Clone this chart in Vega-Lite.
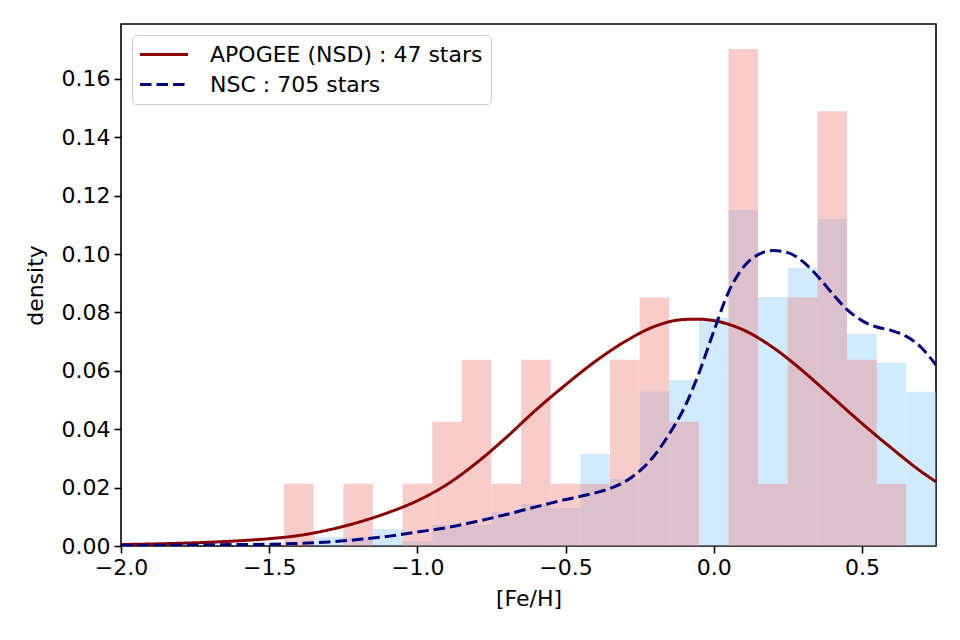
{
  "$schema": "https://vega.github.io/schema/vega-lite/v6.json",
  "width": 815,
  "height": 522,
  "autosize": {"type": "none"},
  "padding": {"left": 121, "top": 24, "right": 24, "bottom": 94},
  "background": "white",
  "config": {
    "font": "DejaVu Sans",
    "view": {"stroke": "black", "strokeWidth": 1.6},
    "axis": {
      "domain": false,
      "grid": false,
      "labelFlush": false,
      "labelFont": "DejaVu Sans",
      "labelFontSize": 22,
      "labelColor": "black",
      "titleFont": "DejaVu Sans",
      "titleFontSize": 22,
      "titleFontWeight": "normal",
      "titleColor": "black",
      "tickColor": "black",
      "tickWidth": 1.6,
      "tickSize": 7,
      "labelPadding": 4
    },
    "legend": {
      "orient": "none",
      "legendX": 11,
      "legendY": 11,
      "fillColor": "white",
      "strokeColor": "#cccccc",
      "cornerRadius": 4,
      "padding": 8,
      "labelFont": "DejaVu Sans",
      "labelFontSize": 22,
      "labelColor": "black",
      "labelLimit": 500,
      "labelOffset": 47,
      "symbolType": "M-1.15,0H3.65",
      "symbolSize": 400,
      "symbolStrokeWidth": 3,
      "rowPadding": 7
    }
  },
  "datasets": {
    "hist": [
      {"series": "NSC", "lo": -1.35, "hi": -1.25, "density": 0.0031},
      {"series": "NSC", "lo": -1.25, "hi": -1.15, "density": 0.0030},
      {"series": "NSC", "lo": -1.15, "hi": -1.05, "density": 0.0058},
      {"series": "NSC", "lo": -1.05, "hi": -0.95, "density": 0.0017},
      {"series": "NSC", "lo": -0.95, "hi": -0.85, "density": 0.0072},
      {"series": "NSC", "lo": -0.85, "hi": -0.75, "density": 0.0072},
      {"series": "NSC", "lo": -0.75, "hi": -0.65, "density": 0.0116},
      {"series": "NSC", "lo": -0.65, "hi": -0.55, "density": 0.0144},
      {"series": "NSC", "lo": -0.55, "hi": -0.45, "density": 0.0130},
      {"series": "NSC", "lo": -0.45, "hi": -0.35, "density": 0.0315},
      {"series": "NSC", "lo": -0.35, "hi": -0.25, "density": 0.0230},
      {"series": "NSC", "lo": -0.25, "hi": -0.15, "density": 0.0529},
      {"series": "NSC", "lo": -0.15, "hi": -0.05, "density": 0.0569},
      {"series": "NSC", "lo": -0.05, "hi": 0.05, "density": 0.0782},
      {"series": "NSC", "lo": 0.05, "hi": 0.15, "density": 0.1151},
      {"series": "NSC", "lo": 0.15, "hi": 0.25, "density": 0.0853},
      {"series": "NSC", "lo": 0.25, "hi": 0.35, "density": 0.0952},
      {"series": "NSC", "lo": 0.35, "hi": 0.45, "density": 0.1120},
      {"series": "NSC", "lo": 0.45, "hi": 0.55, "density": 0.0726},
      {"series": "NSC", "lo": 0.55, "hi": 0.65, "density": 0.0627},
      {"series": "NSC", "lo": 0.65, "hi": 0.75, "density": 0.0528},
      {"series": "APOGEE", "lo": -1.45, "hi": -1.35, "density": 0.0213},
      {"series": "APOGEE", "lo": -1.25, "hi": -1.15, "density": 0.0213},
      {"series": "APOGEE", "lo": -1.05, "hi": -0.95, "density": 0.0213},
      {"series": "APOGEE", "lo": -0.95, "hi": -0.85, "density": 0.0426},
      {"series": "APOGEE", "lo": -0.85, "hi": -0.75, "density": 0.0638},
      {"series": "APOGEE", "lo": -0.75, "hi": -0.65, "density": 0.0213},
      {"series": "APOGEE", "lo": -0.65, "hi": -0.55, "density": 0.0638},
      {"series": "APOGEE", "lo": -0.55, "hi": -0.45, "density": 0.0213},
      {"series": "APOGEE", "lo": -0.45, "hi": -0.35, "density": 0.0213},
      {"series": "APOGEE", "lo": -0.35, "hi": -0.25, "density": 0.0638},
      {"series": "APOGEE", "lo": -0.25, "hi": -0.15, "density": 0.0851},
      {"series": "APOGEE", "lo": -0.15, "hi": -0.05, "density": 0.0426},
      {"series": "APOGEE", "lo": 0.05, "hi": 0.15, "density": 0.1702},
      {"series": "APOGEE", "lo": 0.15, "hi": 0.25, "density": 0.0213},
      {"series": "APOGEE", "lo": 0.25, "hi": 0.35, "density": 0.0851},
      {"series": "APOGEE", "lo": 0.35, "hi": 0.45, "density": 0.1489},
      {"series": "APOGEE", "lo": 0.45, "hi": 0.55, "density": 0.0638},
      {"series": "APOGEE", "lo": 0.55, "hi": 0.65, "density": 0.0213}
    ],
    "kde": [
      {"label": "APOGEE (NSD) : 47 stars", "feh": -2.0, "density": 0.0005},
      {"label": "APOGEE (NSD) : 47 stars", "feh": -1.85, "density": 0.0008},
      {"label": "APOGEE (NSD) : 47 stars", "feh": -1.7, "density": 0.0013},
      {"label": "APOGEE (NSD) : 47 stars", "feh": -1.6, "density": 0.0018},
      {"label": "APOGEE (NSD) : 47 stars", "feh": -1.5, "density": 0.0025},
      {"label": "APOGEE (NSD) : 47 stars", "feh": -1.4, "density": 0.0036},
      {"label": "APOGEE (NSD) : 47 stars", "feh": -1.3, "density": 0.0055},
      {"label": "APOGEE (NSD) : 47 stars", "feh": -1.2, "density": 0.0081},
      {"label": "APOGEE (NSD) : 47 stars", "feh": -1.1, "density": 0.0114},
      {"label": "APOGEE (NSD) : 47 stars", "feh": -1.0, "density": 0.0155},
      {"label": "APOGEE (NSD) : 47 stars", "feh": -0.9, "density": 0.0211},
      {"label": "APOGEE (NSD) : 47 stars", "feh": -0.8, "density": 0.0285},
      {"label": "APOGEE (NSD) : 47 stars", "feh": -0.7, "density": 0.0372},
      {"label": "APOGEE (NSD) : 47 stars", "feh": -0.6, "density": 0.0466},
      {"label": "APOGEE (NSD) : 47 stars", "feh": -0.5, "density": 0.0552},
      {"label": "APOGEE (NSD) : 47 stars", "feh": -0.4, "density": 0.0632},
      {"label": "APOGEE (NSD) : 47 stars", "feh": -0.3, "density": 0.0700},
      {"label": "APOGEE (NSD) : 47 stars", "feh": -0.2, "density": 0.0752},
      {"label": "APOGEE (NSD) : 47 stars", "feh": -0.1, "density": 0.0776},
      {"label": "APOGEE (NSD) : 47 stars", "feh": -0.05, "density": 0.0777},
      {"label": "APOGEE (NSD) : 47 stars", "feh": 0.0, "density": 0.0772},
      {"label": "APOGEE (NSD) : 47 stars", "feh": 0.1, "density": 0.0740},
      {"label": "APOGEE (NSD) : 47 stars", "feh": 0.2, "density": 0.0680},
      {"label": "APOGEE (NSD) : 47 stars", "feh": 0.3, "density": 0.0600},
      {"label": "APOGEE (NSD) : 47 stars", "feh": 0.4, "density": 0.0510},
      {"label": "APOGEE (NSD) : 47 stars", "feh": 0.5, "density": 0.0420},
      {"label": "APOGEE (NSD) : 47 stars", "feh": 0.6, "density": 0.0335},
      {"label": "APOGEE (NSD) : 47 stars", "feh": 0.7, "density": 0.0255},
      {"label": "APOGEE (NSD) : 47 stars", "feh": 0.75, "density": 0.0220},
      {"label": "NSC : 705 stars", "feh": -2.0, "density": 0.0002},
      {"label": "NSC : 705 stars", "feh": -1.8, "density": 0.0003},
      {"label": "NSC : 705 stars", "feh": -1.6, "density": 0.0005},
      {"label": "NSC : 705 stars", "feh": -1.5, "density": 0.0006},
      {"label": "NSC : 705 stars", "feh": -1.4, "density": 0.0009},
      {"label": "NSC : 705 stars", "feh": -1.3, "density": 0.0014},
      {"label": "NSC : 705 stars", "feh": -1.2, "density": 0.0022},
      {"label": "NSC : 705 stars", "feh": -1.1, "density": 0.0033},
      {"label": "NSC : 705 stars", "feh": -1.0, "density": 0.0048},
      {"label": "NSC : 705 stars", "feh": -0.9, "density": 0.0063},
      {"label": "NSC : 705 stars", "feh": -0.8, "density": 0.0084},
      {"label": "NSC : 705 stars", "feh": -0.7, "density": 0.0108},
      {"label": "NSC : 705 stars", "feh": -0.6, "density": 0.0134},
      {"label": "NSC : 705 stars", "feh": -0.55, "density": 0.0147},
      {"label": "NSC : 705 stars", "feh": -0.5, "density": 0.0159},
      {"label": "NSC : 705 stars", "feh": -0.45, "density": 0.0170},
      {"label": "NSC : 705 stars", "feh": -0.4, "density": 0.0182},
      {"label": "NSC : 705 stars", "feh": -0.35, "density": 0.0197},
      {"label": "NSC : 705 stars", "feh": -0.3, "density": 0.0220},
      {"label": "NSC : 705 stars", "feh": -0.25, "density": 0.0257},
      {"label": "NSC : 705 stars", "feh": -0.2, "density": 0.0310},
      {"label": "NSC : 705 stars", "feh": -0.15, "density": 0.0384},
      {"label": "NSC : 705 stars", "feh": -0.1, "density": 0.0472},
      {"label": "NSC : 705 stars", "feh": -0.05, "density": 0.0592},
      {"label": "NSC : 705 stars", "feh": 0.0, "density": 0.0735},
      {"label": "NSC : 705 stars", "feh": 0.05, "density": 0.0870},
      {"label": "NSC : 705 stars", "feh": 0.1, "density": 0.0955},
      {"label": "NSC : 705 stars", "feh": 0.15, "density": 0.0998},
      {"label": "NSC : 705 stars", "feh": 0.2, "density": 0.1012},
      {"label": "NSC : 705 stars", "feh": 0.25, "density": 0.1005},
      {"label": "NSC : 705 stars", "feh": 0.3, "density": 0.0975},
      {"label": "NSC : 705 stars", "feh": 0.35, "density": 0.0925},
      {"label": "NSC : 705 stars", "feh": 0.4, "density": 0.0865},
      {"label": "NSC : 705 stars", "feh": 0.45, "density": 0.0810},
      {"label": "NSC : 705 stars", "feh": 0.5, "density": 0.0772},
      {"label": "NSC : 705 stars", "feh": 0.55, "density": 0.0750},
      {"label": "NSC : 705 stars", "feh": 0.6, "density": 0.0738},
      {"label": "NSC : 705 stars", "feh": 0.65, "density": 0.0718},
      {"label": "NSC : 705 stars", "feh": 0.7, "density": 0.0680},
      {"label": "NSC : 705 stars", "feh": 0.75, "density": 0.0620}
    ]
  },
  "encoding": {
    "x": {
      "type": "quantitative",
      "scale": {"domain": [-2, 0.75], "nice": false, "zero": false},
      "axis": {"title": "[Fe/H]", "values": [-2, -1.5, -1, -0.5, 0, 0.5], "format": ".1f", "titlePadding": 10}
    },
    "y": {
      "type": "quantitative",
      "scale": {"domain": [0, 0.1788], "nice": false},
      "axis": {"title": "density", "values": [0, 0.02, 0.04, 0.06, 0.08, 0.1, 0.12, 0.14, 0.16], "format": ".2f", "titlePadding": 14}
    }
  },
  "layer": [
    {
      "data": {"name": "hist"},
      "transform": [{"filter": "datum.series === 'NSC'"}],
      "mark": {"type": "bar", "color": "#87cefa", "opacity": 0.4, "clip": true},
      "encoding": {
        "x": {"field": "lo", "type": "quantitative"},
        "x2": {"field": "hi"},
        "y": {"field": "density", "type": "quantitative"},
        "y2": {"datum": 0}
      }
    },
    {
      "data": {"name": "hist"},
      "transform": [{"filter": "datum.series === 'APOGEE'"}],
      "mark": {"type": "bar", "color": "#f08080", "opacity": 0.4, "clip": true},
      "encoding": {
        "x": {"field": "lo", "type": "quantitative"},
        "x2": {"field": "hi"},
        "y": {"field": "density", "type": "quantitative"},
        "y2": {"datum": 0}
      }
    },
    {
      "data": {"name": "kde"},
      "mark": {"type": "line", "strokeWidth": 3, "interpolate": "monotone", "clip": true},
      "encoding": {
        "x": {"field": "feh", "type": "quantitative"},
        "y": {"field": "density", "type": "quantitative"},
        "color": {
          "field": "label",
          "type": "nominal",
          "scale": {"domain": ["APOGEE (NSD) : 47 stars", "NSC : 705 stars"], "range": ["#8b0000", "#000080"]},
          "legend": {"title": null}
        },
        "strokeDash": {
          "field": "label",
          "type": "nominal",
          "scale": {"domain": ["APOGEE (NSD) : 47 stars", "NSC : 705 stars"], "range": [[1, 0], [11.5, 5]]},
          "legend": {"title": null}
        }
      }
    }
  ]
}
